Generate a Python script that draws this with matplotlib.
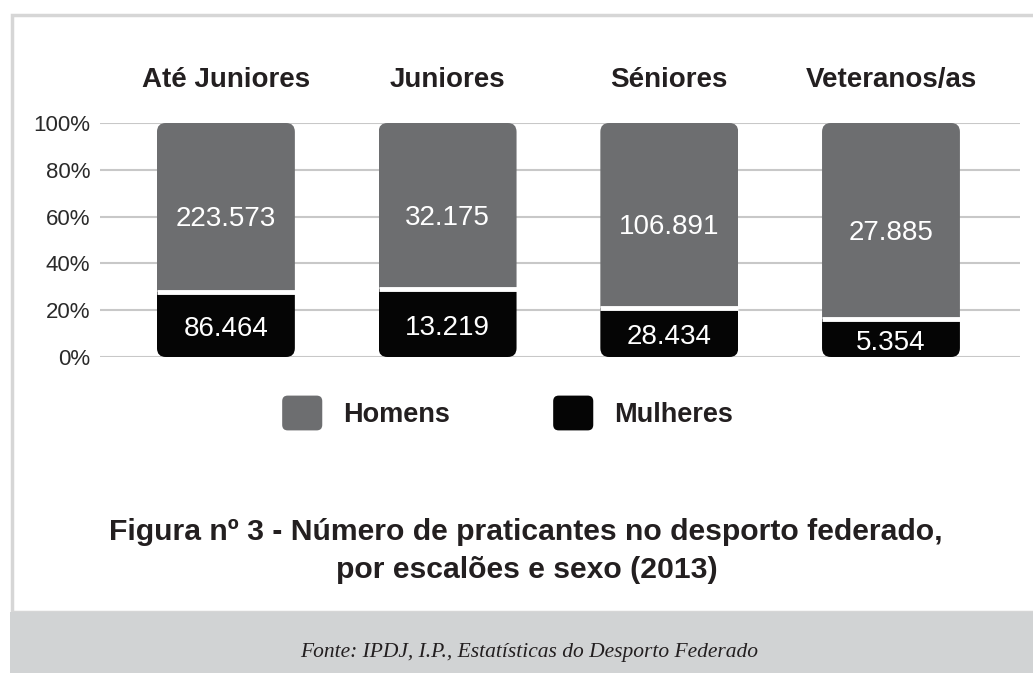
import matplotlib.pyplot as plt
import numpy as np
from matplotlib.patches import FancyBboxPatch, Rectangle, Patch
from matplotlib.legend_handler import HandlerPatch

categorias = ['Até Juniores', 'Juniores', 'Séniores', 'Veteranos/as']
homens = [223573, 32175, 106891, 27885]
mulheres = [86464, 13219, 28434, 5354]
rotulos_homens = ['223.573', '32.175', '106.891', '27.885']
rotulos_mulheres = ['86.464', '13.219', '28.434', '5.354']
yticks = [0, 0.2, 0.4, 0.6, 0.8, 1.0]
ytick_labels = ['0%', '20%', '40%', '60%', '80%', '100%']

cinza = '#6d6e70'
preto = '#050505'
texto = '#231f20'

plt.rcParams['font.family'] = ['Liberation Sans', 'DejaVu Sans']

fig = plt.figure(figsize=(10.33, 6.73), dpi=100)
W, H = 1033, 673

# moldura e faixa inferior
fig.patches.append(Rectangle((12 / W, 1 - 612 / H), 1.0, 597 / H, transform=fig.transFigure,
                             facecolor='white', edgecolor='#d6d6d6', lw=2.5, zorder=-2))
fig.patches.append(Rectangle((10 / W, 0), 1.0, 1 - 612 / H, transform=fig.transFigure,
                             facecolor='#d1d3d4', edgecolor='none', zorder=-1))

ax = fig.add_axes([100 / W, 1 - 357 / H, 920 / W, 234 / H])
ax.patch.set_visible(False)

x = np.arange(len(categorias))
total = np.array(homens) + np.array(mulheres)
p_m = np.array(mulheres) / total
p_h = np.array(homens) / total
largura = 0.622

b1 = ax.bar(x, p_m, largura, color=preto, zorder=3)
b2 = ax.bar(x, p_h, largura, bottom=p_m, color=cinza, zorder=3)

asp = (1 / 234) / (1 / 221.7)
for i in range(len(x)):
    clip = FancyBboxPatch((x[i] - largura / 2, 0), largura, 1.0,
                          boxstyle='round,pad=0,rounding_size=0.04',
                          mutation_aspect=asp, transform=ax.transData,
                          facecolor='none', edgecolor='none')
    ax.add_patch(clip)
    b1[i].set_clip_path(clip)
    b2[i].set_clip_path(clip)
    ax.hlines(p_m[i], x[i] - largura / 2, x[i] + largura / 2, color='white', lw=3.5, zorder=4)
    ax.text(x[i], p_m[i] + p_h[i] / 2 - 0.05, rotulos_homens[i], ha='center', va='center',
            color='white', fontsize=20, zorder=5)
    ax.text(x[i], p_m[i] / 2 - 0.02, rotulos_mulheres[i], ha='center', va='center',
            color='white', fontsize=20, zorder=5)
    ax.text(x[i], 1 + 43 / 234, categorias[i], ha='center', va='center', color=texto,
            fontsize=20, fontweight='bold')

ax.set_xlim(-0.568, 3.582)
ax.set_ylim(0, 1)
ax.set_xticks([])
ax.set_yticks(yticks)
ax.set_yticklabels(ytick_labels, fontsize=16, color='#2a2a2a')
ax.tick_params(axis='y', length=0, pad=7)
ax.grid(axis='y', color='#c8c8c8', lw=1.5, zorder=1)
for s in ax.spines.values():
    s.set_visible(False)


def quadrado(legend, orig_handle, xdescent, ydescent, width, height, fontsize):
    return FancyBboxPatch((-xdescent, -ydescent), width, height,
                          boxstyle='round,pad=0,rounding_size=4')


handles = [Patch(facecolor=cinza, label='Homens'), Patch(facecolor=preto, label='Mulheres')]
fig.legend(handles=handles, loc='center', bbox_to_anchor=(0.4915, 1 - 413 / H), ncol=2,
           frameon=False, prop={'size': 19.5, 'weight': 'bold'},
           handlelength=1.48, handleheight=1.6, handletextpad=0.78, columnspacing=3.8,
           handler_map={Patch: HandlerPatch(patch_func=quadrado)},
           labelcolor=texto)

fig.text(526 / W, 1 - 532 / H, 'Figura nº 3 - Número de praticantes no desporto federado,',
         ha='center', va='center', fontsize=21.7, fontweight='bold', color=texto)
fig.text(527 / W, 1 - 570 / H, 'por escalões e sexo (2013)',
         ha='center', va='center', fontsize=21.7, fontweight='bold', color=texto)
fig.text(529 / W, 1 - 652 / H, 'Fonte: IPDJ, I.P., Estatísticas do Desporto Federado',
         ha='center', va='center', fontsize=15.5, style='italic', color=texto,
         family=['Liberation Serif', 'DejaVu Serif'])

fig.savefig('out.png', dpi=100)
